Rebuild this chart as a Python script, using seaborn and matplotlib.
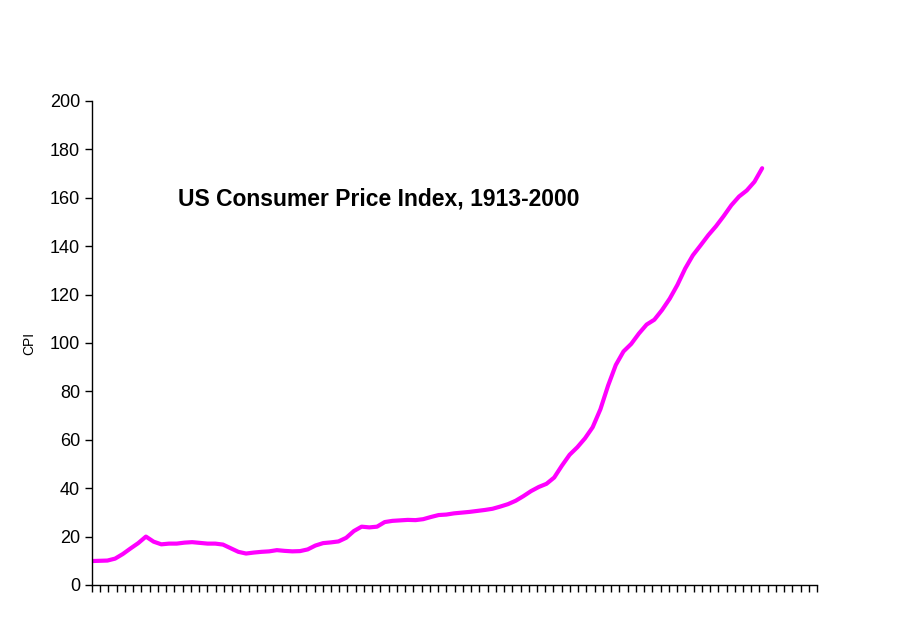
import matplotlib
matplotlib.use("Agg")
import matplotlib.pyplot as plt
import seaborn as sns
import numpy as np
import pandas as pd

years = list(range(1913, 2001))
cpi = [9.9,10.0,10.1,10.9,12.8,15.1,17.3,20.0,17.9,16.8,17.1,17.1,17.5,17.7,17.4,17.1,17.1,16.7,15.2,13.7,
       13.0,13.4,13.7,13.9,14.4,14.1,13.9,14.0,14.7,16.3,17.3,17.6,18.0,19.5,22.3,24.1,23.8,24.1,26.0,26.5,
       26.7,26.9,26.8,27.2,28.1,28.9,29.1,29.6,29.9,30.2,30.6,31.0,31.5,32.4,33.4,34.8,36.7,38.8,40.5,41.8,
       44.4,49.3,53.8,56.9,60.6,65.2,72.6,82.4,90.9,96.5,99.6,103.9,107.6,109.6,113.6,118.3,124.0,130.7,136.2,140.3,
       144.5,148.2,152.4,156.9,160.5,163.0,166.6,172.2]
title = "US Consumer Price Index, 1913-2000"

sns.set_theme(style="white")
plt.rcParams['font.family'] = ['Liberation Sans', 'DejaVu Sans']
plt.rcParams['text.color'] = 'black'
plt.rcParams['axes.labelcolor'] = 'black'
plt.rcParams['xtick.color'] = 'black'
plt.rcParams['ytick.color'] = 'black'
df = pd.DataFrame({"idx": np.arange(len(years)), "cpi": cpi})

fig = plt.figure(figsize=(9.11, 6.23), dpi=100)
ax = fig.add_axes([0.101, 0.061, 0.796, 0.777])
sns.lineplot(data=df, x="idx", y="cpi", ax=ax, color="#FF00FF", linewidth=3)
xmax = (len(years) - 1) * 725 / 670
ax.set_xlim(0, xmax)
ax.set_ylim(0, 200)
ax.set_yticks(range(0, 201, 20))
ax.set_xticks(np.linspace(0, xmax, 89))
ax.set_xticklabels([])
ax.tick_params(axis="x", direction="out", length=5, width=1, color="black", bottom=True)
ax.tick_params(axis="y", direction="out", length=5, width=1, color="black", left=True, labelsize=13, labelcolor="black")
for s in ["top", "right"]:
    ax.spines[s].set_visible(False)
for s in ["left", "bottom"]:
    ax.spines[s].set_color("black")
    ax.spines[s].set_linewidth(1)
ax.set_xlabel("")
ax.set_ylabel("CPI", fontsize=10, color="black", labelpad=10)
ax.text(0.118, 0.785, title, transform=ax.transAxes, fontsize=16.5, fontweight="bold", color="black")
fig.savefig("out.png", dpi=100)
